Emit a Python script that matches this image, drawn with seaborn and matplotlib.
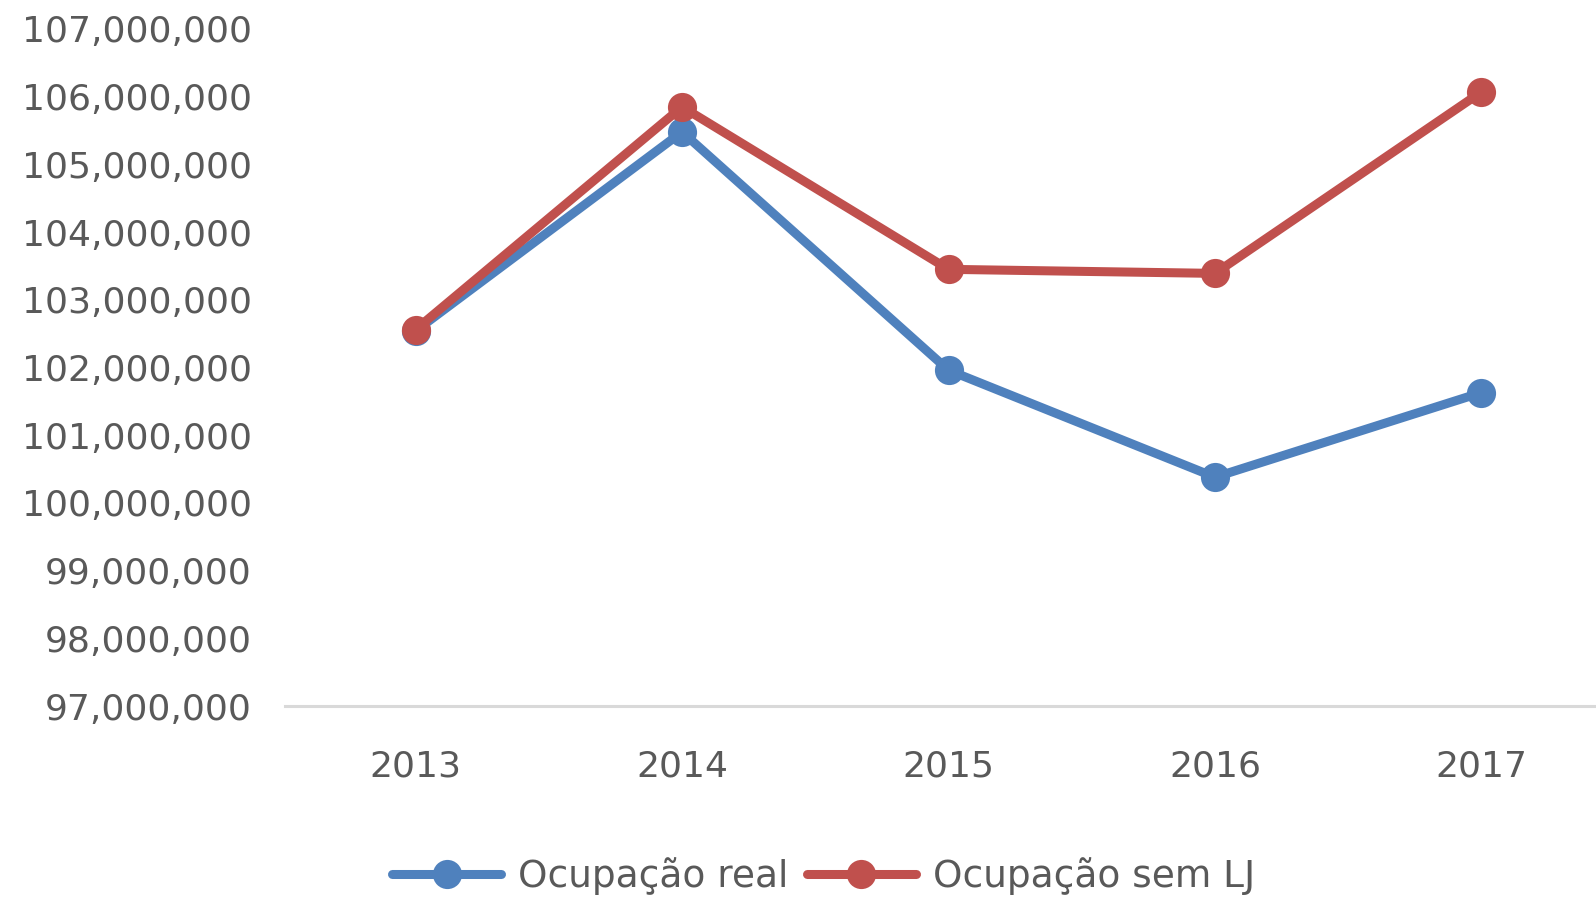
import matplotlib
matplotlib.use("Agg")
import matplotlib.pyplot as plt
import matplotlib.ticker as mticker
import seaborn as sns
import pandas as pd
from matplotlib.lines import Line2D

years = ["2013", "2014", "2015", "2016", "2017"]
ocupacao_real = [102540000, 105480000, 101960000, 100380000, 101630000]
ocupacao_sem_lj = [102560000, 105850000, 103450000, 103390000, 106070000]
series_names = ["Ocupação real", "Ocupação sem LJ"]
colors = ["#4F81BD", "#C0504D"]

df = pd.DataFrame({
    "Ano": years * 2,
    "Valor": ocupacao_real + ocupacao_sem_lj,
    "Serie": [series_names[0]] * len(years) + [series_names[1]] * len(years),
})

sns.set_style("white")
plt.rcParams["font.family"] = ["DejaVu Sans"]

fig = plt.figure(figsize=(15.96, 8.97), dpi=100)
ax = fig.add_axes([0.1786, 0.2129, 0.8214, 0.7548])

sns.lineplot(data=df, x="Ano", y="Valor", hue="Serie", palette=colors,
             marker="o", markersize=21, markeredgewidth=0, linewidth=6.5,
             ax=ax, legend=False, sort=False)

ax.set_ylim(97000000, 107000000)
ax.set_yticks(range(97000000, 107000001, 1000000))
ax.yaxis.set_major_formatter(mticker.FuncFormatter(lambda v, p: f"{int(v):,}"))
ax.set_xlim(-0.49, 4.43)
ax.set_xlabel("")
ax.set_ylabel("")
ax.grid(False)
for s in ["top", "right", "left"]:
    ax.spines[s].set_visible(False)
ax.spines["bottom"].set_color("#D9D9D9")
ax.spines["bottom"].set_linewidth(2.2)
ax.tick_params(axis="y", length=0, pad=24, labelsize=26, labelcolor="#595959")
ax.tick_params(axis="x", length=0, pad=31, labelsize=26, labelcolor="#595959")

handles = [Line2D([0], [0], color=c, lw=6.5, marker="o", markersize=21, markeredgewidth=0) for c in colors]
fig.legend(handles, series_names, loc="center", bbox_to_anchor=(0.516, 0.023),
           ncol=2, frameon=False, fontsize=27, labelcolor="#595959",
           handlelength=2.9, handletextpad=0.45, columnspacing=0.5)

fig.savefig("out.png", dpi=100)
